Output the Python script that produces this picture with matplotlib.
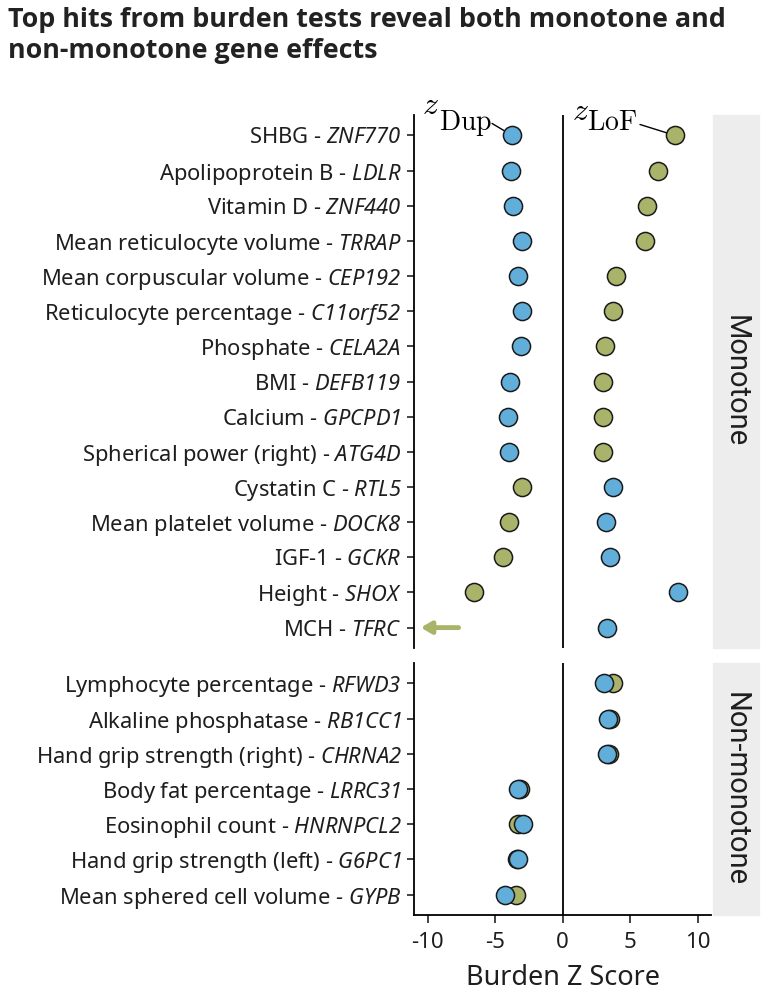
import numpy as np
import matplotlib
matplotlib.use("Agg")
import matplotlib.pyplot as plt

# gene names go through mathtext \mathrm, mapped to the italic face so digits are italic too
plt.rcParams['mathtext.fontset'] = 'custom'
plt.rcParams['mathtext.rm'] = 'Noto Sans:italic'
plt.rcParams['mathtext.it'] = 'Noto Sans:italic'
plt.rcParams['font.family'] = ['Noto Sans', 'DejaVu Sans']

# ---- data ----
mono_traits = ["SHBG", "Apolipoprotein B", "Vitamin D", "Mean reticulocyte volume",
               "Mean corpuscular volume", "Reticulocyte percentage", "Phosphate", "BMI",
               "Calcium", "Spherical power (right)", "Cystatin C", "Mean platelet volume",
               "IGF-1", "Height", "MCH"]
mono_genes = ["ZNF770", "LDLR", "ZNF440", "TRRAP", "CEP192", "C11orf52", "CELA2A",
              "DEFB119", "GPCPD1", "ATG4D", "RTL5", "DOCK8", "GCKR", "SHOX", "TFRC"]
mono_dup = [-3.74, -3.81, -3.64, -3.02, -3.30, -3.00, -3.07, -3.87, -4.04, -3.99,
            3.74, 3.22, 3.52, 8.58, 3.27]
# MCH - TFRC LoF is off the scale (drawn as an arrow)
mono_lof = [8.33, 7.05, 6.28, 6.09, 3.96, 3.71, 3.17, 3.02, 3.02, 3.02,
            -3.02, -3.96, -4.39, -6.58, -15.0]

nonmono_traits = ["Lymphocyte percentage", "Alkaline phosphatase", "Hand grip strength (right)",
                  "Body fat percentage", "Eosinophil count", "Hand grip strength (left)",
                  "Mean sphered cell volume"]
nonmono_genes = ["RFWD3", "RB1CC1", "CHRNA2", "LRRC31", "HNRNPCL2", "G6PC1", "GYPB"]
nonmono_dup = [3.07, 3.35, 3.30, -3.27, -2.95, -3.27, -4.26]
nonmono_lof = [3.77, 3.52, 3.47, -3.15, -3.27, -3.40, -3.44]

panel_names = ["Monotone", "Non-monotone"]
xticks = [-10, -5, 0, 5, 10]

DUP_COL = "#62AEDA"
LOF_COL = "#A9B36A"
TXT_COL = "#1e1e1e"
XLIM = (-11, 11)

fig = plt.figure(figsize=(7.81, 10), dpi=100)

L, R = 414 / 781, 711 / 781
ax_top = fig.add_axes([L, 1 - 648 / 1000, R - L, (648 - 115) / 1000])
ax_bot = fig.add_axes([L, 1 - 915 / 1000, R - L, (915 - 663) / 1000])

panels = [
    (ax_top, mono_traits, mono_genes, mono_dup, mono_lof),
    (ax_bot, nonmono_traits, nonmono_genes, nonmono_dup, nonmono_lof),
]

for (ax, traits, genes, dup, lof), name in zip(panels, panel_names):
    n = len(traits)
    y = np.arange(n)
    lof = np.array(lof)
    dup = np.array(dup)
    ax.axvline(0, color="black", lw=1.3, zorder=1)
    inside = lof > XLIM[0]
    ax.scatter(lof[inside], y[inside], s=170, color=LOF_COL, edgecolor="#1a1a1a",
               linewidth=1.1, zorder=3)
    ax.scatter(dup, y, s=170, color=DUP_COL, edgecolor="#1a1a1a",
               linewidth=1.1, zorder=4)
    for yi in y[~inside]:
        ax.annotate("", xy=(XLIM[0] + 0.5, yi), xytext=(XLIM[0] + 3.3, yi),
                    arrowprops=dict(arrowstyle="-|>,head_length=0.6,head_width=0.35",
                                    color=LOF_COL, lw=3.5, shrinkA=0, shrinkB=0))
    ax.set_xlim(*XLIM)
    ax.set_ylim(n - 1 + 0.58, -0.58)
    ax.set_yticks(y)
    ax.set_yticklabels([f"{t} - $\\mathrm{{{g}}}$" for t, g in zip(traits, genes)],
                       fontsize=15.8, color=TXT_COL)
    ax.tick_params(axis="y", length=5, width=1.2, pad=4, color="#222222")
    for s in ["top", "right"]:
        ax.spines[s].set_visible(False)
    ax.spines["left"].set_linewidth(1.3)
    # facet strip on the right
    bb = ax.get_position()
    fig.patches.append(plt.Rectangle((713 / 781, bb.y0), 46 / 781, bb.height,
                                     transform=fig.transFigure, color="#EDEDED", zorder=0))
    fig.text(736 / 781, bb.y0 + bb.height / 2, name, rotation=-90, ha="center", va="center",
             fontsize=21, family="Roboto", color=TXT_COL)

ax_top.spines["bottom"].set_visible(False)
ax_top.set_xticks([])

ax_bot.spines["bottom"].set_linewidth(1.3)
ax_bot.set_xticks(xticks)
ax_bot.set_xticklabels([str(t) for t in xticks], fontsize=16, color=TXT_COL)
ax_bot.tick_params(axis="x", length=6, width=1.2, pad=6, color="#222222")
ax_bot.set_xlabel("Burden Z Score", fontsize=19.5, color=TXT_COL, labelpad=8)

# series labels: z with a large roman subscript, and a leader line to the first point
lab_kw = dict(ha="left", va="baseline", math_fontfamily="cm", color="black",
              annotation_clip=False)
ax_top.annotate("$z$", xy=(-10.41, -0.6), fontsize=23, **lab_kw)
ax_top.annotate(r"$\mathrm{Dup}$", xy=(-9.15, -0.14), fontsize=20, **lab_kw)
ax_top.annotate("", xy=(mono_dup[0], 0), xytext=(-5.22, -0.34), annotation_clip=False,
                arrowprops=dict(arrowstyle="-", lw=1.0, color="black", shrinkA=0, shrinkB=6.5))
ax_top.annotate("$z$", xy=(0.70, -0.43), fontsize=23, **lab_kw)
ax_top.annotate(r"$\mathrm{LoF}$", xy=(1.81, -0.14), fontsize=20, **lab_kw)
ax_top.annotate("", xy=(mono_lof[0], 0), xytext=(5.74, -0.31), annotation_clip=False,
                arrowprops=dict(arrowstyle="-", lw=1.0, color="black", shrinkA=0, shrinkB=6.5))

fig.text(8 / 781, 1 - 7 / 1000,
         "Top hits from burden tests reveal both monotone and\nnon-monotone gene effects",
         ha="left", va="top", fontsize=19.4, fontweight="bold", family="Open Sans",
         color="#222222", linespacing=1.25)

fig.savefig("out.png", dpi=100)
